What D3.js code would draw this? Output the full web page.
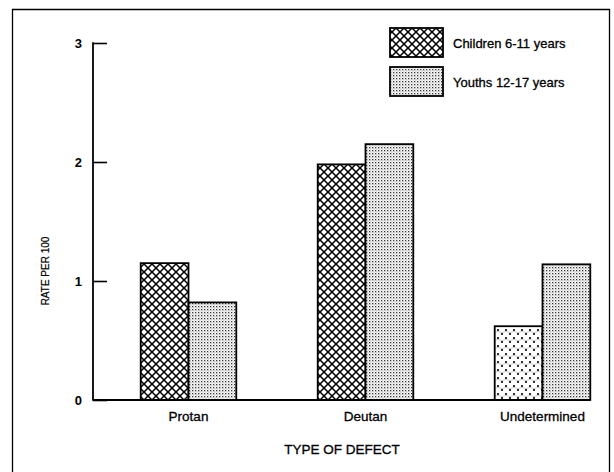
<!DOCTYPE html>
<html><head><meta charset="utf-8">
<script src="https://cdn.jsdelivr.net/npm/d3@7"></script>
<style>body{margin:0;background:#fff}svg{display:block}text{font-family:"Liberation Sans",Arial,sans-serif;fill:#000}.lbl{stroke:#000;stroke-width:0.3}</style>
</head><body><svg id="c" width="614" height="472"></svg>
<script>
const categories = ["Protan", "Deutan", "Undetermined"];
const seriesNames = ["Children 6-11 years", "Youths 12-17 years"];
const children = [1.15, 1.98, 0.62];
const youths = [0.82, 2.15, 1.14];
const yTicks = [0, 1, 2, 3];

const svg = d3.select("#c");
const defs = svg.append("defs");
// crosshatch
const P = 8;
const ch = defs.append("pattern").attr("id","cross").attr("patternUnits","userSpaceOnUse")
  .attr("width",P).attr("height",P);
ch.append("rect").attr("width",P).attr("height",P).attr("fill","#fff");
ch.append("path").attr("d",`M-1,${P+1} L${P+1},-1 M-1,1 L1,-1 M${P-1},${P+1} L${P+1},${P-1}`).attr("stroke","#000").attr("stroke-width",1.5);
ch.append("path").attr("d",`M-1,-1 L${P+1},${P+1} M-1,${P-1} L1,${P+1} M${P-1},-1 L${P+1},1`).attr("stroke","#000").attr("stroke-width",1.5);
// fine stipple
const st = defs.append("pattern").attr("id","stip").attr("patternUnits","userSpaceOnUse")
  .attr("width",3).attr("height",3);
st.append("rect").attr("width",3).attr("height",3).attr("fill","#fff");
st.append("rect").attr("width",1.3).attr("height",1.3).attr("fill","#333");
st.append("rect").attr("x",1.5).attr("y",1.5).attr("width",1).attr("height",1).attr("fill","#888");
// coarse dots (faded crosshatch in Undetermined)
const cd = defs.append("pattern").attr("id","dots").attr("patternUnits","userSpaceOnUse")
  .attr("width",8).attr("height",8);
cd.append("rect").attr("width",8).attr("height",8).attr("fill","#fff");
cd.append("circle").attr("cx",2).attr("cy",2).attr("r",1.1).attr("fill","#000");
cd.append("circle").attr("cx",6).attr("cy",6).attr("r",1.1).attr("fill","#000");
cd.append("path").attr("d","M0,4 Q2,2.5 4,4 T8,4").attr("stroke","#aaa").attr("fill","none").attr("stroke-width",0.6);

// frame
svg.append("path").attr("d","M12.5,475 L12.5,9.5 L609.5,9.5 L609.5,475")
  .attr("fill","none").attr("stroke","#000").attr("stroke-width",1.3);

const y = d3.scaleLinear().domain([0,3]).range([400,43]);
const x = d3.scaleBand().domain(categories).range([100,631]).paddingInner(0.46).paddingOuter(0.23);
const xs = d3.scaleBand().domain(seriesNames).range([0,x.bandwidth()]);

const g = svg.append("g");
const data = [];
categories.forEach((c,i)=>{
  data.push({c, s:seriesNames[0], v:children[i], fill: i===2 ? "url(#dots)" : "url(#cross)"});
  data.push({c, s:seriesNames[1], v:youths[i], fill:"url(#stip)"});
});
g.selectAll("rect.bar").data(data).enter().append("rect").attr("class","bar")
  .attr("x", d=>x(d.c)+xs(d.s)).attr("y", d=>y(d.v))
  .attr("width", xs.bandwidth()).attr("height", d=>y(0)-y(d.v))
  .attr("fill", d=>d.fill).attr("stroke","#000").attr("stroke-width",1.8);

// y axis
const yAxis = d3.axisRight(y).tickValues(yTicks).tickSize(14).tickFormat("");
const ya = svg.append("g").attr("transform","translate(93,0)").call(yAxis);
ya.select(".domain").remove();
ya.selectAll(".tick line").attr("stroke","#000").attr("stroke-width",1.6);
svg.append("line").attr("x1",93).attr("x2",93).attr("y1",y(3)-0.8).attr("y2",y(0)+0.8)
  .attr("stroke","#000").attr("stroke-width",1.8);
svg.selectAll("text.yt").data(yTicks).enter().append("text").attr("class","yt")
  .attr("x",82).attr("y",d=>y(d)+5).attr("text-anchor","end")
  .attr("font-size",13).attr("font-weight","bold").text(d=>d);
// x baseline
svg.append("line").attr("x1",93).attr("x2",590).attr("y1",y(0)).attr("y2",y(0))
  .attr("stroke","#000").attr("stroke-width",1.8);

// category labels
svg.selectAll("text.cat").data(categories).enter().append("text").attr("class","cat lbl")
  .attr("x",d=>x(d)+x.bandwidth()/2).attr("y",421).attr("text-anchor","middle")
  .attr("font-size",13.5).text(d=>d);
svg.append("text").attr("class","lbl").attr("x",342).attr("y",454).attr("text-anchor","middle").attr("font-size",13.5).text("TYPE OF DEFECT");
svg.append("text").attr("class","lbl").attr("transform","translate(49,271) rotate(-90)").attr("text-anchor","middle")
  .attr("font-size",10).style("stroke-width",0.2).text("RATE PER 100");

// legend
const leg = svg.append("g");
const legFills = ["url(#cross)","url(#stip)"];
seriesNames.forEach((s,i)=>{
  leg.append("rect").attr("x",390).attr("y",28+i*39).attr("width",53).attr("height",29)
    .attr("fill",legFills[i]).attr("stroke","#000").attr("stroke-width",1.8);
  leg.append("text").attr("class","lbl").attr("x",453).attr("y",48+i*39).attr("font-size",13).text(s);
});
</script></body></html>
